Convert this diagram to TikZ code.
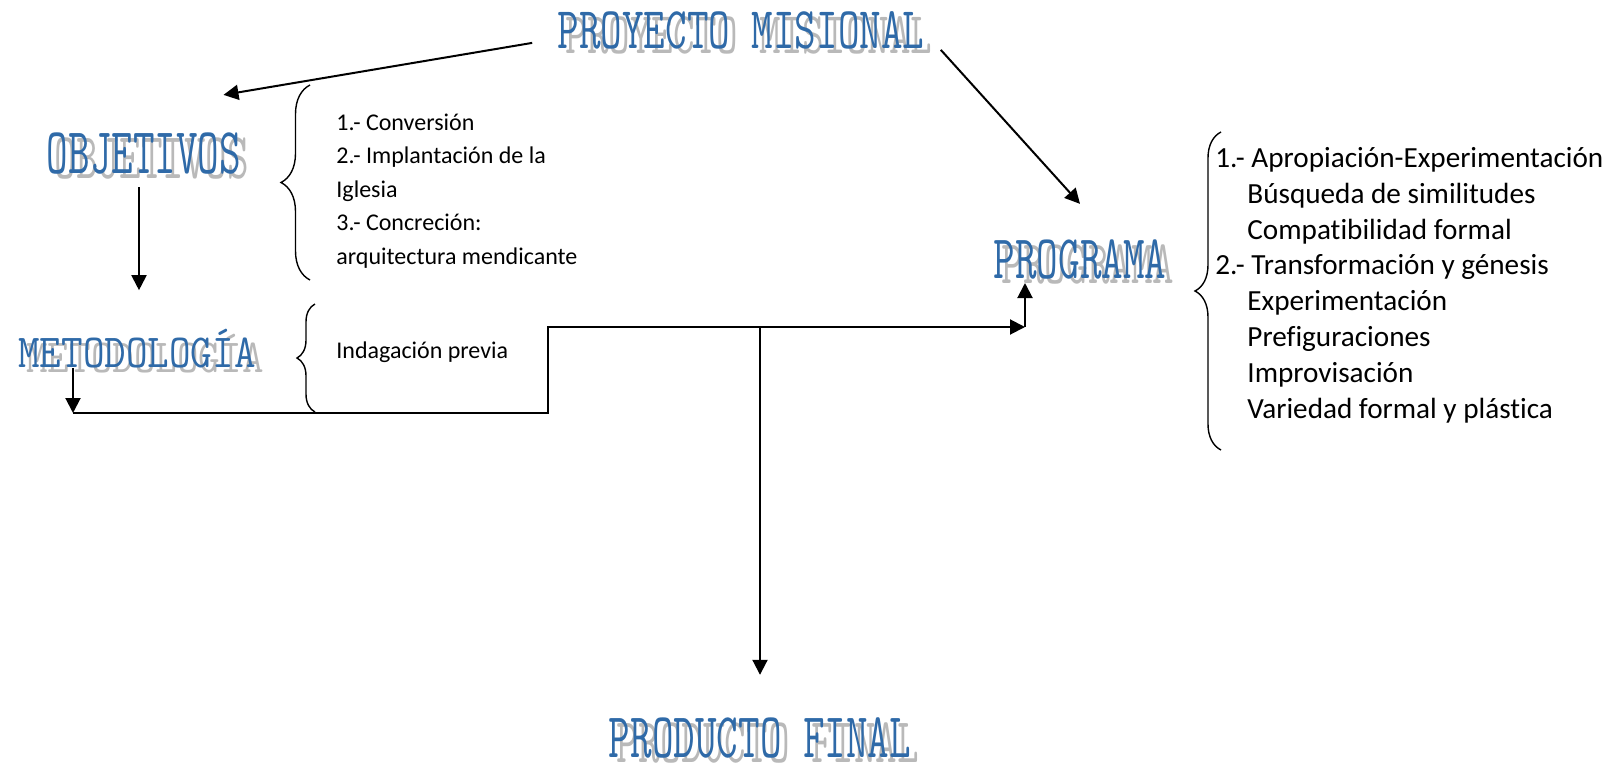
\documentclass[tikz,border=0pt]{standalone}
\usepackage{fontspec}
\setmainfont{Carlito}[Ligatures=NoCommon]
\usepackage{graphicx}
\usetikzlibrary{arrows.meta, positioning, decorations.pathreplacing}
\usepackage{xcolor}
\definecolor{azulrotulo}{RGB}{47,106,168}
\definecolor{sombrarotulo}{RGB}{185,185,185}
\newcommand{\rotulo}[2]{\rlap{\smash{\kern4pt\raisebox{-2.5pt}{\scalebox{1}[#1]{\color{sombrarotulo}#2}}}}\scalebox{1}[#1]{\color{azulrotulo}#2}}

\begin{document}
\begin{tikzpicture}[x=0.5pt, y=-0.5pt,
  titulo/.style={font=\ttfamily\fontsize{20.95}{22}\selectfont, inner sep=0pt, anchor=base},
  lista/.style={font=\fontsize{12}{16.75}\selectfont, inner sep=0pt, anchor=base west, align=left},
  flecha/.style={-{Triangle[length=7.5pt, width=7.5pt]}, line width=1pt},
  llave/.style={decorate, decoration={brace, amplitude=#1}, line width=0.7pt}]
  \useasboundingbox (0,0) rectangle (1619,766);

  \node[titulo] (proyecto) at (741,48) {\rotulo{1.41}{PROYECTO MISIONAL}};
  \node[titulo] (objetivos) at (144,173) {\rotulo{1.56}{OBJETIVOS}};
  \node[titulo] (metodologia) at (137,367) {\rotulo{1.13}{METODOLOGÍA}};
  \node[titulo] (programa) at (1080,278) {\rotulo{1.48}{PROGRAMA}};
  \node[titulo] (producto) at (760,757) {\rotulo{1.52}{PRODUCTO FINAL}};

  % base anchor = last line
  \node[lista] (objlista) at (336,264) {1.- Conversión\\2.- Implantación de la\\Iglesia\\3.- Concreción:\\arquitectura mendicante};
  \node[lista] (indagacion) at (336,358) {Indagación previa};
  \node[lista, font=\fontsize{14.6}{17.9}\selectfont] (proglista) at (1215,418) {1.- Apropiación-Experimentación\\
    \hspace*{16pt}Búsqueda de similitudes\\
    \hspace*{16pt}Compatibilidad formal\\
    2.- Transformación y génesis\\
    \hspace*{16pt}Experimentación\\
    \hspace*{16pt}Prefiguraciones\\
    \hspace*{16pt}Improvisación\\
    \hspace*{16pt}Variedad formal y plástica};

  \draw[llave=14.5pt] (310,280) -- (310,85);
  \draw[llave=9pt] (315,412) -- (315,304);
  \draw[llave=13pt] (1221,450) -- (1221,132);

  \coordinate (m1) at (73,413);
  \coordinate (m2) at (548,413);
  \coordinate (m3) at (548,327);
  \coordinate (m4) at (1025,327);
  \coordinate (m5) at (760,327);

  \draw[flecha] ([shift={(-25,13)}]proyecto.west) -- ([shift={(-18,-37)}]objetivos.north east);
  \draw[flecha] ([shift={(16,20)}]proyecto.east) -- ([shift={(0,-35)}]programa.north);
  \draw[flecha] ([shift={(-5,13)}]objetivos.south) -- ([shift={(-5,116)}]objetivos.south);
  \draw[flecha] ([shift={(-64,1)}]metodologia.base) -- (m1);
  \draw[flecha] (m1) -- (m2) -- (m3) -- (m4);
  \draw[flecha] (m4) -- ([shift={(-55,5)}]programa.base);
  \draw[flecha] (m5) -- ([shift={(0,-42)}]producto.north);
\end{tikzpicture}
\end{document}
